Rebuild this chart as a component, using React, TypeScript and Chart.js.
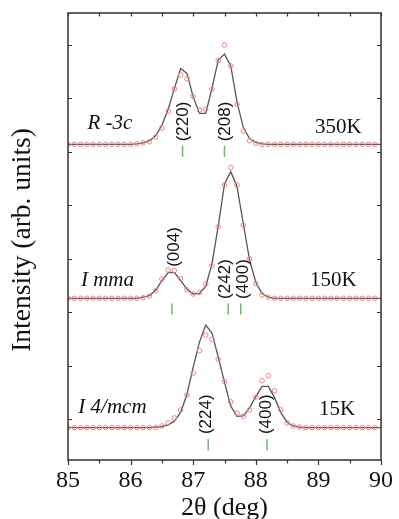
import React, { useEffect, useRef } from 'react';
import { Chart, registerables } from 'chart.js';

Chart.register(...registerables);

// 2θ grid (deg)
const theta = [
  85.0, 85.1, 85.2, 85.3, 85.4, 85.5, 85.6, 85.7, 85.8, 85.9,
  86.0, 86.1, 86.2, 86.3, 86.4, 86.5, 86.6, 86.7, 86.8, 86.9,
  87.0, 87.1, 87.2, 87.3, 87.4, 87.5, 87.6, 87.7, 87.8, 87.9,
  88.0, 88.1, 88.2, 88.3, 88.4, 88.5, 88.6, 88.7, 88.8, 88.9,
  89.0, 89.1, 89.2, 89.3, 89.4, 89.5, 89.6, 89.7, 89.8, 89.9,
  90.0,
];

// Observed intensities (arb. units, above each pattern's baseline), 85.0 .. 89.9
const obs350 = [
  0, 0, 0, 0, 0, 0, 0, 0, 0, 0,
  0, 0.01, 0.03, 0.05, 0.14, 0.31, 0.62, 1.04, 1.30, 1.23,
  0.90, 0.64, 0.66, 1.03, 1.57, 1.86, 1.47, 0.75, 0.25, 0.07,
  0.02, 0, 0, 0, 0, 0, 0, 0, 0, 0,
  0, 0, 0, 0, 0, 0, 0, 0, 0, 0,
];
const obs150 = [
  0, 0, 0, 0, 0, 0, 0, 0, 0, 0,
  0, 0, 0.01, 0.04, 0.14, 0.36, 0.53, 0.52, 0.37, 0.16,
  0.08, 0.11, 0.27, 0.61, 1.34, 2.12, 2.45, 2.12, 1.37, 0.74,
  0.28, 0.06, 0.02, 0, 0, 0, 0, 0, 0, 0,
  0, 0, 0, 0, 0, 0, 0, 0, 0, 0,
];
const obs15 = [
  0, 0, 0, 0, 0, 0, 0, 0, 0, 0,
  0, 0, 0, 0, 0, 0.03, 0.09, 0.18, 0.33, 0.61,
  1.02, 1.44, 1.73, 1.65, 1.28, 0.86, 0.48, 0.27, 0.21, 0.33,
  0.57, 0.88, 0.97, 0.69, 0.33, 0.09, 0.03, 0.01, 0, 0,
  0, 0, 0, 0, 0, 0, 0, 0, 0, 0,
];

// Calculated profiles, 85.0 .. 90.0
const calc350 = [
  0, 0, 0, 0, 0, 0, 0, 0, 0, 0,
  0, 0.01, 0.03, 0.07, 0.16, 0.36, 0.66, 1.05, 1.42, 1.33,
  0.89, 0.58, 0.58, 1.05, 1.58, 1.69, 1.47, 0.79, 0.32, 0.11,
  0.04, 0.01, 0, 0, 0, 0, 0, 0, 0, 0,
  0, 0, 0, 0, 0, 0, 0, 0, 0, 0,
  0,
];
const calc150 = [
  0, 0, 0, 0, 0, 0, 0, 0, 0, 0,
  0, 0, 0.02, 0.05, 0.15, 0.33, 0.48, 0.48, 0.33, 0.17,
  0.08, 0.09, 0.22, 0.65, 1.35, 2.14, 2.37, 2.09, 1.40, 0.72,
  0.30, 0.09, 0.02, 0, 0, 0, 0, 0, 0, 0,
  0, 0, 0, 0, 0, 0, 0, 0, 0, 0,
  0,
];
const calc15 = [
  0, 0, 0, 0, 0, 0, 0, 0, 0, 0,
  0, 0, 0, 0, 0.01, 0.02, 0.05, 0.12, 0.29, 0.62,
  1.13, 1.60, 1.92, 1.77, 1.32, 0.85, 0.40, 0.21, 0.22, 0.37,
  0.58, 0.77, 0.77, 0.56, 0.28, 0.10, 0.03, 0.01, 0, 0,
  0, 0, 0, 0, 0, 0, 0, 0, 0, 0,
  0,
];

// Vertical offsets of the three patterns (350K, 150K, 15K)
const offsets = [6.14, 3.26, 0.84];

// Bragg reflection positions
const bragg350 = [86.83, 87.5];
const bragg150 = [86.66, 87.56, 87.76];
const bragg15 = [87.24, 88.18];
const braggY = [6.01, 3.06, 0.52];

// Axis
const xMin = 85;
const xMax = 90;
const yMin = 0.233;
const yMax = 8.6;
const yTickValues = [1, 2, 3, 4, 5, 6, 7, 8];

// Annotations
const phaseNames = ['R -3c', 'I mma', 'I 4/mcm'];
const phaseX = [85.67, 85.63, 85.71];
const phaseY = [6.54, 3.6, 1.22];
const tempLabels = ['350K', '150K', '15K'];
const tempX = [89.32, 89.24, 89.3];
const tempY = [6.46, 3.6, 1.17];
const hklLabels = ['(220)', '(208)', '(004)', '(242)', '(400)', '(224)', '(400)'];
const hklX = [86.85, 87.52, 86.7, 87.52, 87.8, 87.21, 88.17];
const hklY = [6.57, 6.57, 4.22, 3.62, 3.62, 1.09, 1.09];

const POINT_COLOR = 'rgb(240,130,130)';
const LINE_COLOR = '#555555';
const GREEN = 'rgb(100,190,100)';
const AXIS_COLOR = '#333333';
const SERIF = "'Liberation Serif', 'Times New Roman', serif";
const SANS = "'Liberation Sans', Arial, sans-serif";

const framePlugin = {
  id: 'frameTicks',
  afterDraw(chart: any) {
    const { ctx, chartArea, scales } = chart;
    const { left, right, top, bottom } = chartArea;
    const x = scales.x;
    const y = scales.y;
    ctx.save();
    ctx.strokeStyle = AXIS_COLOR;
    ctx.lineWidth = 1.5;
    ctx.strokeRect(left, top, right - left, bottom - top);
    ctx.lineWidth = 1.2;
    const xt = x.ticks.map((t: any) => t.value);
    const xv: { v: number; major: boolean }[] = [];
    for (let i = 0; i < xt.length; i++) {
      xv.push({ v: xt[i], major: true });
      if (i < xt.length - 1) xv.push({ v: (xt[i] + xt[i + 1]) / 2, major: false });
    }
    ctx.beginPath();
    xv.forEach(({ v, major }) => {
      const px = Math.round(x.getPixelForValue(v)) + 0.5;
      const len = major ? 5 : 3.5;
      ctx.moveTo(px, bottom);
      ctx.lineTo(px, bottom + len);
      ctx.moveTo(px, top);
      ctx.lineTo(px, top + 3.5);
    });
    y.ticks.forEach((t: any) => {
      const py = Math.round(y.getPixelForValue(t.value)) + 0.5;
      ctx.moveTo(left, py);
      ctx.lineTo(left + 4, py);
      ctx.moveTo(right, py);
      ctx.lineTo(right - 4, py);
    });
    ctx.stroke();

    // annotations
    ctx.fillStyle = '#111';
    ctx.textAlign = 'center';
    ctx.textBaseline = 'middle';
    ctx.font = `italic 21px ${SERIF}`;
    phaseNames.forEach((s, i) => {
      ctx.fillText(s, x.getPixelForValue(phaseX[i]), y.getPixelForValue(phaseY[i]));
    });
    ctx.font = `21px ${SERIF}`;
    tempLabels.forEach((s, i) => {
      ctx.fillText(s, x.getPixelForValue(tempX[i]), y.getPixelForValue(tempY[i]));
    });
    ctx.font = `17px ${SANS}`;
    hklLabels.forEach((s, i) => {
      ctx.save();
      ctx.translate(x.getPixelForValue(hklX[i]), y.getPixelForValue(hklY[i]));
      ctx.rotate(-Math.PI / 2);
      ctx.fillText(s, 0, 0);
      ctx.restore();
    });
    ctx.restore();
  },
};

function makeObs(vals: number[], off: number) {
  return vals.map((h, i) => ({ x: theta[i], y: h + off }));
}
function makeCalc(vals: number[], off: number) {
  return vals.map((h, i) => ({ x: theta[i], y: h + off }));
}
function makeBragg(pos: number[], yv: number) {
  return pos.map((p) => ({ x: p, y: yv }));
}

export default function App() {
  const ref = useRef<HTMLCanvasElement | null>(null);
  useEffect(() => {
    if (!ref.current) return;
    const obsSets = [obs350, obs150, obs15];
    const calcSets = [calc350, calc150, calc15];
    const braggSets = [bragg350, bragg150, bragg15];
    const datasets: any[] = [];
    calcSets.forEach((c, i) => {
      datasets.push({
        data: makeCalc(c, offsets[i]),
        showLine: true,
        borderColor: LINE_COLOR,
        borderWidth: 1.3,
        pointRadius: 0,
        tension: 0,
        order: 2,
      });
    });
    obsSets.forEach((o, i) => {
      datasets.push({
        data: makeObs(o, offsets[i]),
        showLine: false,
        pointStyle: 'circle',
        pointRadius: 2.3,
        pointBorderWidth: 1,
        borderColor: POINT_COLOR,
        backgroundColor: 'rgba(0,0,0,0)',
        order: 1,
      });
    });
    braggSets.forEach((b, i) => {
      datasets.push({
        data: makeBragg(b, braggY[i]),
        showLine: false,
        pointStyle: 'line',
        pointRotation: 90,
        pointRadius: 5.5,
        pointBorderWidth: 1.5,
        borderColor: GREEN,
        backgroundColor: GREEN,
        order: 0,
      });
    });
    const chart = new Chart(ref.current, {
      type: 'scatter',
      data: { datasets },
      options: {
        responsive: false,
        animation: false,
        devicePixelRatio: 1,
        layout: { padding: { top: 13, right: 17, left: 0, bottom: 0 } },
        plugins: { legend: { display: false }, tooltip: { enabled: false } },
        scales: {
          x: {
            type: 'linear',
            min: xMin,
            max: xMax,
            ticks: {
              stepSize: 1,
              color: '#111',
              padding: 6,
              font: { family: SERIF, size: 24 },
              callback: (v: any) => String(v),
            },
            grid: { display: false, drawTicks: false },
            border: { display: false },
            title: {
              display: true,
              text: '2θ (deg)',
              color: '#111',
              font: { family: SERIF, size: 26, lineHeight: 0.8 },
              padding: 0,
            },
            afterFit: (s: any) => {
              s.height = 59;
            },
          },
          y: {
            type: 'linear',
            min: yMin,
            max: yMax,
            afterBuildTicks: (s: any) => {
              s.ticks = yTickValues.map((v) => ({ value: v }));
            },
            ticks: { display: false },
            grid: { display: false, drawTicks: false },
            border: { display: false },
            title: {
              display: true,
              text: 'Intensity (arb. units)\u00a0',
              color: '#111',
              font: { family: SERIF, size: 27.5, lineHeight: 1.2 },
              padding: { top: 6, bottom: 0 },
            },
            afterFit: (s: any) => {
              s.width = 68;
            },
          },
        },
      },
      plugins: [framePlugin],
    });
    return () => chart.destroy();
  }, []);
  return (
    <div style={{ position: 'absolute', left: 0, top: 0, width: 399, height: 519, background: '#fff' }}>
      <canvas ref={ref} width={399} height={519} style={{ display: 'block' }} />
    </div>
  );
}
